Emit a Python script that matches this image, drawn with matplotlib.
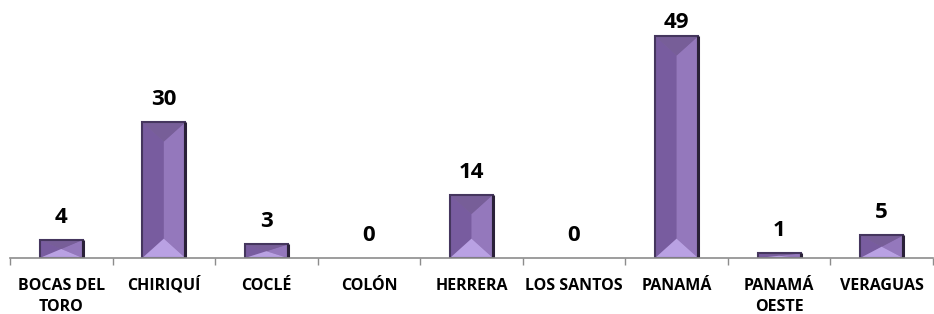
import matplotlib
matplotlib.use("Agg")
import matplotlib.pyplot as plt
from matplotlib.patches import Polygon

categories = ["BOCAS DEL\nTORO", "CHIRIQUÍ", "COCLÉ", "COLÓN", "HERRERA",
              "LOS SANTOS", "PANAMÁ", "PANAMÁ\nOESTE", "VERAGUAS"]
values = [4, 30, 3, 0, 14, 0, 49, 1, 5]

W, H = 934, 314
fig = plt.figure(figsize=(W / 100, H / 100), dpi=100)
left_px, right_px, bottom_px, top_px = 10, 933, 258, 9
ax = fig.add_axes([left_px / W, 1 - bottom_px / H,
                   (right_px - left_px) / W, (bottom_px - top_px) / H])
ymax = 55
ax.set_xlim(-0.5, len(categories) - 0.5)
ax.set_ylim(0, ymax)

bw = 0.42
x = list(range(len(categories)))
bars = ax.bar(x, values, width=bw, color="#8064a2", edgecolor="none",
              linewidth=0, zorder=3)

px_per_x = (right_px - left_px) / len(categories)
px_per_y = (bottom_px - top_px) / ymax

for b in bars:
    x0, y0 = b.get_x(), b.get_y()
    w, h = b.get_width(), b.get_height()
    if h <= 0:
        continue
    xc = x0 + w / 2
    d = min((w / 2) * px_per_x / px_per_y * 0.9, h / 2)
    ax.add_patch(Polygon([(x0, y0), (xc, y0 + d), (xc, y0 + h - d), (x0, y0 + h)],
                         closed=True, facecolor="#785c9f", edgecolor="none", zorder=3.1))
    ax.add_patch(Polygon([(x0 + w, y0), (xc, y0 + d), (xc, y0 + h - d), (x0 + w, y0 + h)],
                         closed=True, facecolor="#9478bc", edgecolor="none", zorder=3.1))
    ax.add_patch(Polygon([(x0, y0 + h), (xc, y0 + h - d), (x0 + w, y0 + h)],
                         closed=True, facecolor="#775e98", edgecolor="none", zorder=3.2))
    ax.add_patch(Polygon([(x0, y0), (xc, y0 + d), (x0 + w, y0)],
                         closed=True, facecolor="#b9a1e3", edgecolor="none", zorder=3.2))
    ax.add_patch(plt.Rectangle((x0, y0), w, h, facecolor="none",
                               edgecolor="#45365e", linewidth=1.5, zorder=3.3))
    ax.plot([x0 + w, x0 + w], [y0, y0 + h], color="#2a2138", linewidth=2.2,
            solid_capstyle="butt", zorder=3.4)

label_cap = 50.8
for xi, v in zip(x, values):
    ax.text(xi, min(v + 3.75, label_cap), str(v), ha="center", va="baseline",
            fontsize=16, fontweight="bold",
            family=["Open Sans", "DejaVu Sans"], color="black")

for s in ["top", "right", "left"]:
    ax.spines[s].set_visible(False)
ax.spines["bottom"].set_color("#8c8c8c")
ax.spines["bottom"].set_linewidth(1.2)
ax.spines["bottom"].set_zorder(4)
ax.set_yticks([])
ax.set_xticks([i - 0.5 for i in range(len(categories) + 1)])
ax.set_xticklabels([])
ax.tick_params(axis="x", which="major", length=5, color="#8c8c8c", width=1)

for xi, lab in zip(x, categories):
    for k, line in enumerate(lab.split("\n")):
        ax.annotate(line, xy=(xi, 0), xycoords=("data", "axes fraction"),
                    xytext=(0, -32 - 20.7 * k), textcoords="offset pixels",
                    ha="center", va="baseline", fontsize=11.5, fontweight="bold",
                    family=["Open Sans", "DejaVu Sans"], color="black",
                    annotation_clip=False)

fig.savefig("out.png", dpi=100)
